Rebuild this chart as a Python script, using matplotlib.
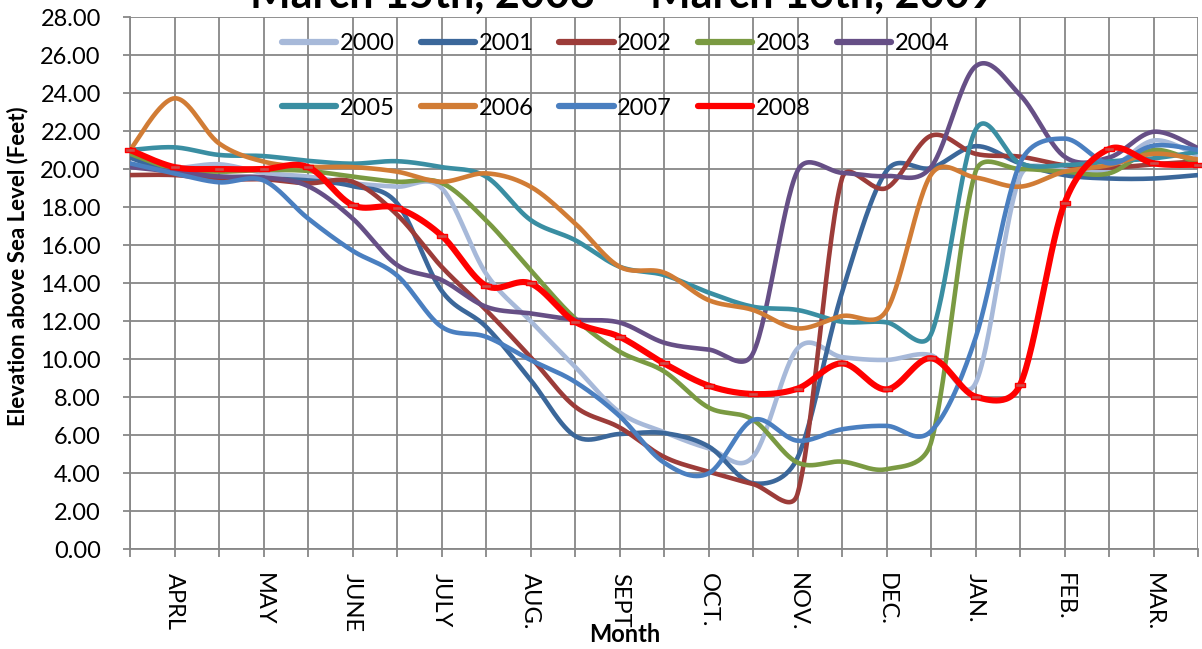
import numpy as np
import matplotlib
matplotlib.use("Agg")
import matplotlib.pyplot as plt
from matplotlib.path import Path

# ---------------- data ----------------
month_labels = ["", "APRL", "", "MAY", "", "JUNE", "", "JULY", "", "AUG.", "", "SEPT", "",
                "OCT.", "", "NOV.", "", "DEC.", "", "JAN.", "", "FEB.", "", "MAR.", ""]

years = ["2000", "2001", "2002", "2003", "2004", "2005", "2006", "2007", "2008"]

y2000 = [20.2, 20.05, 20.25, 19.8, 19.6, 19.25, 19.07, 19.0, 14.5, 12.0, 9.6, 7.2, 6.15,
         5.3, 4.85, 10.55, 10.1, 9.95, 10.2, 8.72, 19.6, 19.95, 20.0, 21.5, 20.7]
y2001 = [20.6, 19.8, 19.6, 19.5, 19.4, 19.1, 18.2, 13.6, 11.7, 8.9, 5.95, 6.05, 6.1,
         5.4, 3.46, 4.8, 13.5, 19.9, 20.05, 21.2, 20.3, 19.68, 19.5, 19.5, 19.68]
y2002 = [19.68, 19.68, 19.46, 19.46, 19.25, 19.33, 17.6, 14.86, 12.58, 10.1, 7.5, 6.4, 4.85,
         4.07, 3.42, 2.9, 19.5, 19.0, 21.75, 20.8, 20.65, 20.2, 20.07, 20.25, 20.4]
y2003 = [20.8, 20.0, 19.86, 19.95, 19.9, 19.6, 19.33, 19.27, 17.3, 14.68, 12.14, 10.39, 9.35,
         7.45, 6.8, 4.55, 4.6, 4.2, 5.6, 19.85, 20.0, 19.86, 19.77, 21.0, 20.3]
y2004 = [20.1, 19.86, 19.6, 19.56, 19.1, 17.4, 14.95, 14.16, 12.75, 12.4, 12.07, 11.92, 10.86,
         10.5, 10.3, 19.9, 19.8, 19.63, 20.1, 25.4, 23.9, 20.65, 20.6, 21.96, 21.1]
y2005 = [21.0, 21.14, 20.74, 20.68, 20.43, 20.28, 20.41, 20.1, 19.6, 17.32, 16.26, 14.86, 14.42,
         13.5, 12.75, 12.58, 11.96, 11.93, 11.3, 22.05, 20.3, 20.2, 20.4, 20.56, 20.9]
y2006 = [21.0, 23.72, 21.35, 20.39, 20.12, 20.1, 19.86, 19.33, 19.77, 19.07, 17.14, 14.86, 14.55,
         13.1, 12.58, 11.61, 12.26, 12.55, 19.7, 19.55, 19.07, 19.86, 20.2, 20.8, 20.5]
y2007 = [20.3, 19.77, 19.3, 19.4, 17.4, 15.7, 14.4, 11.7, 11.17, 9.95, 8.8, 7.0, 4.55,
         3.98, 6.79, 5.7, 6.3, 6.48, 6.2, 11.1, 20.3, 21.6, 20.3, 21.23, 21.0]
y2008 = [21.0, 20.1, 20.0, 20.0, 20.1, 18.1, 17.95, 16.5, 13.86, 13.98, 11.96, 11.17, 9.77,
         8.6, 8.16, 8.44, 9.77, 8.4, 10.04, 8.02, 8.63, 18.19, 21.05, 20.3, 20.22]

series = [y2000, y2001, y2002, y2003, y2004, y2005, y2006, y2007, y2008]
colors = ["#A7B9D9", "#3B679A", "#9C3C39", "#7A9A42", "#664F86",
          "#3A8EA2", "#D17C35", "#4A7FC0", "#FF0000"]

yticks = np.arange(0, 28.01, 2)

# ---------------- helpers ----------------
PX_X, PX_Y = 44.5, 19.0   # pixel size of one category / one foot (for smoothing geometry)


def smooth(xs, ys, n=30):
    """Excel-style smoothed line: cubic Bezier segments through the data points,
    control points 1/6 of the neighbour chord, capped at half the segment length."""
    P = np.column_stack([np.asarray(xs, float) * PX_X, np.asarray(ys, float) * PX_Y])
    P = np.vstack([P[0], P, P[-1]])
    t = np.linspace(0, 1, n, endpoint=False)[:, None]
    out = []
    for i in range(1, len(P) - 2):
        p0, p1, p2, p3 = P[i - 1], P[i], P[i + 1], P[i + 2]
        d12 = np.hypot(*(p2 - p1))
        d02 = np.hypot(*(p2 - p0))
        d13 = np.hypot(*(p3 - p1))
        f0 = 1 / 6
        f1 = 1 / 6
        if d02 > 0 and d02 / 6 >= d12 / 2:
            f0 = d12 / d02 / 2
        if d13 > 0 and d13 / 6 >= d12 / 2:
            f1 = d12 / d13 / 2
        c1 = p1 + f0 * (p2 - p0)
        c2 = p2 - f1 * (p3 - p1)
        seg = ((1 - t) ** 3) * p1 + 3 * ((1 - t) ** 2) * t * c1 + 3 * (1 - t) * t ** 2 * c2 + t ** 3 * p2
        out.append(seg)
    out.append(P[-1][None, :])
    out = np.vstack(out)
    return out[:, 0] / PX_X, out[:, 1] / PX_Y


# ---------------- figure ----------------
plt.rcParams['font.family'] = ['Lato', 'DejaVu Sans']
fig = plt.figure(figsize=(12.02, 6.49), dpi=100)
ax = fig.add_axes([130 / 1202, 1 - 549 / 649, 1068 / 1202, 532 / 649])

x = np.arange(len(month_labels))
grid_c = "#878787"

handles = []
for name, ys, c in zip(years, series, colors):
    sx, sy = smooth(x, ys)
    lw = 4.4 if name == "2008" else 3.3
    ln, = ax.plot(sx, sy, color=c, lw=lw, solid_capstyle='round', zorder=3, label=name)
    handles.append(ln)
    if name == "2008":
        rect = Path([(-1, -0.4), (1, -0.4), (1, 0.4), (-1, 0.4), (-1, -0.4)],
                    [Path.MOVETO, Path.LINETO, Path.LINETO, Path.LINETO, Path.CLOSEPOLY])
        ax.plot(x, ys, linestyle='none', marker=rect, markersize=7.5,
                markerfacecolor="#D04A48", markeredgecolor="#FF0000",
                markeredgewidth=1.0, zorder=4, clip_on=False)

ax.set_xlim(0, len(month_labels) - 1)
ax.set_ylim(0, 28)
ax.set_yticks(yticks)
ax.set_yticklabels([f"{v:.2f}" for v in yticks], fontsize=17)
ax.set_xticks(x)
ax.set_xticklabels(month_labels, rotation=270, fontsize=17, va='top', ha='center')

ax.grid(True, color=grid_c, lw=1.3, zorder=0)
ax.set_axisbelow(True)
for s in ["top", "right"]:
    ax.spines[s].set_visible(False)
for s in ["left", "bottom"]:
    ax.spines[s].set_color(grid_c)
    ax.spines[s].set_linewidth(1.3)
ax.tick_params(axis='x', direction='out', length=6, width=1.3, color=grid_c, pad=11)
ax.tick_params(axis='y', direction='out', length=5, width=1.3, color=grid_c, pad=16)

fig.text(18 / 1202, 1 - 266 / 649, "Elevation above Sea Level (Feet)", fontsize=16,
         fontweight='bold', rotation=90, ha='center', va='center')
fig.text(625 / 1202, 1 - 634 / 649, "Month", fontsize=17, fontweight='bold',
         ha='center', va='center')

order = [0, 5, 1, 6, 2, 7, 3, 8, 4]
leg = ax.legend([handles[i] for i in order], [years[i] for i in order],
                ncol=5, frameon=False, fontsize=17,
                loc='upper left', bbox_to_anchor=(282 / 1202, 1 - 33 / 649),
                bbox_transform=fig.transFigure,
                handlelength=2.3, handletextpad=0.15, columnspacing=1.1,
                labelspacing=1.85, borderaxespad=0, borderpad=0)
for lh in leg.get_lines():
    lh.set_linewidth(4.5)
    lh.set_solid_capstyle('round')

fig.text(622 / 1202, 1 - 8 / 649, "March 15th, 2008 \u2014 March 16th, 2009",
         fontsize=31, fontweight='bold', ha='center', va='baseline')

fig.savefig("out.png", dpi=100)
